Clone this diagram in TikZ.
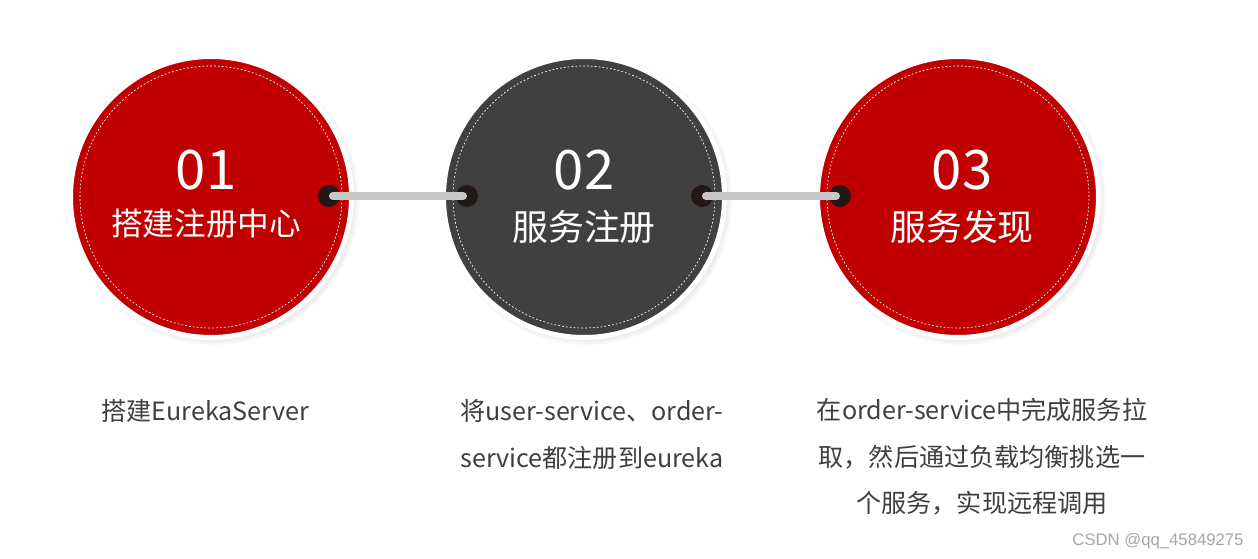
\documentclass[tikz,border=0pt]{standalone}
\usepackage{fontspec}
\setmainfont{Noto Sans CJK SC}
\newfontfamily\markfont{Liberation Sans}
\usetikzlibrary{shadows}
\definecolor{stagered}{HTML}{C00000}
\definecolor{stagegray}{HTML}{404040}
\definecolor{knobdark}{HTML}{231815}
\definecolor{barlight}{HTML}{C8C8C8}
\definecolor{notegray}{HTML}{3F3F3F}
\tikzset{
  stage/.style={circle, minimum size=5.62cm, inner sep=0pt, draw=white, line width=0.1cm,
    circular drop shadow={shadow xshift=1.5pt, shadow yshift=-1.5pt, shadow scale=1.035, opacity=0.55},
    path picture={\draw[white, line width=0.4pt, dash pattern=on 1pt off 1.2pt] (path picture bounding box.center) circle (2.62cm);}},
  stagenum/.style={text=white, font=\fontsize{31}{31}\selectfont},
  stagetitle/.style={text=white, font=\fontsize{20.4}{20.4}\selectfont},
  knob/.style={circle, fill=knobdark, minimum size=0.44cm, inner sep=0pt},
  linkbar/.style={barlight, line width=0.16cm, line cap=round, shorten <=0.08cm, shorten >=0.08cm},
  stagenote/.style={text=notegray, font=\fontsize{14.3}{26.5}\selectfont, align=center, inner sep=0pt},
}
\begin{document}
\begin{tikzpicture}
    \useasboundingbox (0,0) rectangle (25.16,-11.18);
    % circles
    \node[stage, fill=stagered] (s1) at (4.22,-3.94) {};
    \node[stage, fill=stagegray] (s2) at (11.68,-3.94) {};
    \node[stage, fill=stagered] (s3) at (19.16,-3.94) {};

    % connectors
    \node[knob] (k1) at (6.58,-3.92) {};
    \node[knob] (k2) at (9.34,-3.92) {};
    \node[knob] (k3) at (14.04,-3.92) {};
    \node[knob] (k4) at (16.80,-3.92) {};
    \draw[linkbar] (k1.center) -- (k2.center);
    \draw[linkbar] (k3.center) -- (k4.center);

    % numbers and titles
    \node[stagenum] (n1) at (4.12,-3.40) {01};
    \node[stagetitle, font=\fontsize{18}{18}\selectfont] (t1) at (4.12,-4.48) {搭建注册中心};
    \node[stagenum] (n2) at (11.68,-3.40) {02};
    \node[stagetitle] (t2) at (11.68,-4.54) {服务注册};
    \node[stagenum] (n3) at (19.24,-3.40) {03};
    \node[stagetitle] (t3) at (19.24,-4.54) {服务发现};

    % notes
    \node[stagenote, anchor=west] (d1) at (2.02,-8.22) {搭建EurekaServer};
    \node[stagenote] (d2) at (11.84,-8.69) {将user-service、order-\\service都注册到eureka};
    \node[stagenote] (d3) at (19.64,-9.14) {在order-service中完成服务拉\\取，然后通过负载均衡挑选一\\个服务，实现远程调用};

    \node[text=gray!70, font=\markfont\fontsize{9.5}{9.5}\selectfont] (wm) at (23.16,-10.82) {CSDN @qq\_45849275};
\end{tikzpicture}
\end{document}
